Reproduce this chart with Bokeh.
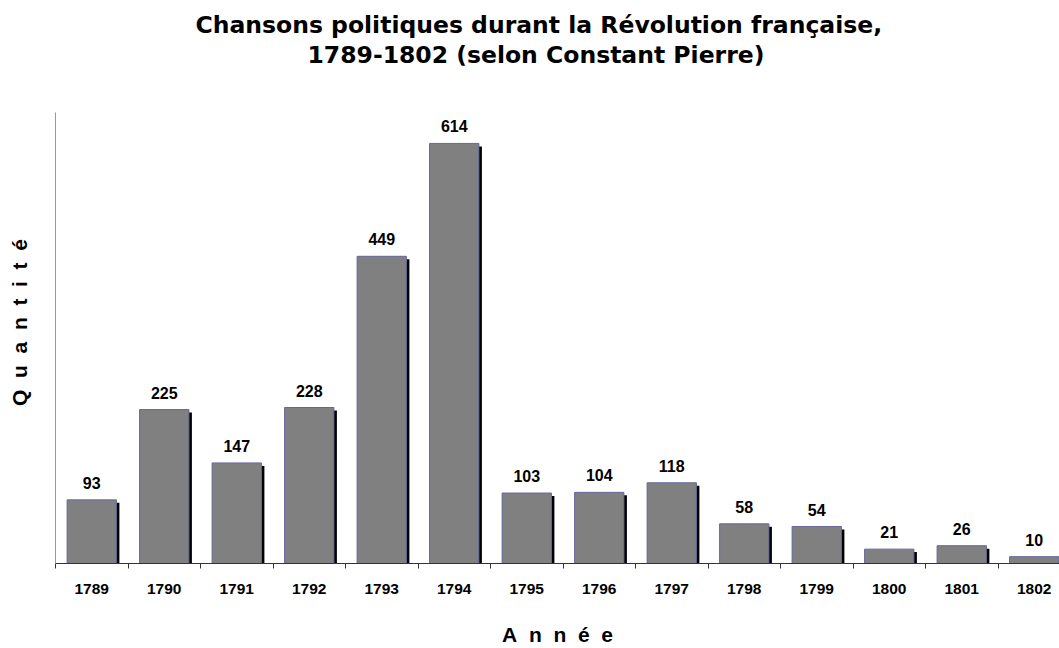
from bokeh.plotting import figure
from bokeh.models import (ColumnDataSource, Range1d, FixedTicker, LinearAxis,
                          LabelSet, Title)
from bokeh.transform import dodge
from bokeh.core.properties import value
from bokeh.embed import file_html
from bokeh.resources import INLINE

# ---- data ----
years = ["1789", "1790", "1791", "1792", "1793", "1794", "1795",
         "1796", "1797", "1798", "1799", "1800", "1801", "1802"]
counts = [93, 225, 147, 228, 449, 614, 103, 104, 118, 58, 54, 21, 26, 10]

title_lines = ["Chansons politiques durant la Révolution française,",
               "1789-1802 (selon Constant Pierre)"]
NB = "\u00a0 "
x_title = NB.join("Année")
y_title = NB.join("Quantité")

# ---- layout constants ----
PX_PER_CAT = 72.5
PX_PER_UNIT = 0.687
SHADOW_PX = 3
AXIS_TOP_PX = 453          # height of the drawn value axis line

n = len(years)
centers = [i + 0.5 for i in range(n)]
bounds = [float(i) for i in range(n + 1)]

dx = SHADOW_PX / PX_PER_CAT
dy = SHADOW_PX / PX_PER_UNIT

src = ColumnDataSource(dict(
    x=centers,
    top=counts,
    label=[str(c) for c in counts],
    stop=[c - dy for c in counts],
    sbot=[-dy] * n,
))

W, H = 1059, 648
left, right, top, bottom = 55, 0, 81, 83
frame_w = W - left - right
frame_h = H - top - bottom

p = figure(width=W, height=H,
           x_range=Range1d(0, frame_w / PX_PER_CAT),
           y_range=Range1d(0, frame_h / PX_PER_UNIT),
           output_backend="svg", toolbar_location=None,
           x_axis_type=None, y_axis_type=None,
           min_border_left=left, min_border_right=right,
           min_border_top=top, min_border_bottom=bottom)
p.outline_line_color = None
p.background_fill_color = "white"
p.border_fill_color = "white"
p.grid.visible = False

# shadow
p.vbar(x=dodge("x", dx), width=0.68, top="stop", bottom="sbot", source=src,
       fill_color="black", line_color=None)
# bars
p.vbar(x="x", width=0.68, top="top", bottom=0, source=src,
       fill_color="#808080", line_color="#66669c", line_width=1)

# value labels
p.add_layout(LabelSet(x="x", y="top", text="label", source=src,
                      text_align="center", text_baseline="alphabetic",
                      y_offset=11, text_font=value("Liberation Sans"),
                      text_font_style="bold", text_font_size="16px",
                      text_color="black"))

# x axis (ticks at category boundaries, labels centred)
ax = LinearAxis(ticker=FixedTicker(ticks=centers, minor_ticks=bounds))
ax.major_label_overrides = {c: y for c, y in zip(centers, years)}
ax.major_tick_line_color = None
ax.major_tick_in = 0
ax.major_tick_out = 0
ax.minor_tick_in = 0
ax.minor_tick_out = 5
ax.minor_tick_line_color = "#333333"
ax.axis_line_color = "#333333"
ax.major_label_standoff = 15
ax.major_label_text_font = "Liberation Sans"
ax.major_label_text_font_style = "bold"
ax.major_label_text_font_size = "15.5px"
ax.major_label_text_color = "black"
ax.axis_label = x_title
ax.axis_label_standoff = 26
ax.axis_label_text_font = "Liberation Sans"
ax.axis_label_text_font_style = "bold"
ax.axis_label_text_font_size = "21px"
ax.axis_label_text_color = "black"
p.add_layout(ax, "below")

# left axis: plain grey line limited in height, with the vertical title
ay = LinearAxis(ticker=FixedTicker(ticks=[]),
                bounds=(0, AXIS_TOP_PX / PX_PER_UNIT))
ay.axis_line_color = "#999999"
ay.major_tick_line_color = None
ay.minor_tick_line_color = None
ay.major_tick_in = 0
ay.major_tick_out = 0
ay.major_label_standoff = 0
ay.axis_label = y_title
ay.axis_label_standoff = 25
ay.axis_label_text_font = "Liberation Sans"
ay.axis_label_text_font_style = "bold"
ay.axis_label_text_font_size = "21px"
ay.axis_label_text_color = "black"
p.add_layout(ay, "left")

# two title lines (inner first)
p.add_layout(Title(text=title_lines[1], align="left", offset=252,
                   standoff=26, text_font="DejaVu Sans",
                   text_font_style="bold", text_font_size="23.5px",
                   text_color="black"), "above")
p.add_layout(Title(text=title_lines[0], align="left", offset=140,
                   standoff=-26, text_font="DejaVu Sans",
                   text_font_style="bold", text_font_size="23.5px",
                   text_color="black"), "above")

open("out.html", "w").write(file_html(p, INLINE))
